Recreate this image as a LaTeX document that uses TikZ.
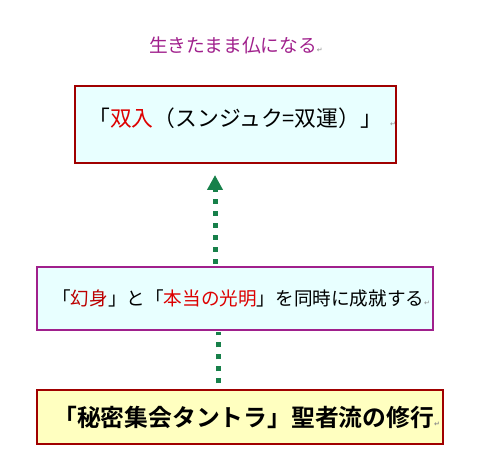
\documentclass[tikz,border=0pt]{standalone}
\usepackage{fontspec}
\newfontfamily\jp{Noto Sans CJK JP}[BoldFont={Noto Sans CJK JP Bold}]
\newfontfamily\sym{DejaVu Sans}
\usetikzlibrary{arrows.meta}
\definecolor{ttl}{HTML}{A0208C}
\definecolor{rd}{HTML}{DD0000}
\definecolor{bx}{HTML}{A00000}
\definecolor{cy}{HTML}{E8FFFF}
\definecolor{yl}{HTML}{FFFFC0}
\definecolor{gr}{HTML}{17804A}
\newcommand{\rmark}{{\sym\fontsize{7pt}{7pt}\selectfont\color{black!45}↵}}
\tikzset{
  box/.style={draw, line width=#1, inner sep=0pt},
  lbl/.style={inner sep=0pt, font=\jp, anchor=west},
  conn/.style={gr, line width=5pt, dash pattern=on 5pt off 7pt},
}
\begin{document}
\begin{tikzpicture}[x=1pt,y=1pt]
\useasboundingbox (0,0) rectangle (478,463);
% title
\node[lbl, text=ttl, font=\jp\fontsize{18.7pt}{19pt}\selectfont] (title) at (149,418) {生きたまま仏になる\rmark};
% box 1
\node[box=2pt, draw=bx, fill=cy, minimum width=321pt, minimum height=77pt] (b1) at (235.5,338.5) {};
\node[lbl, font=\jp\fontsize{21.8pt}{22pt}\selectfont] (t1) at (88,345) {「\textcolor{rd}{双入}（スンジュク=双運）」\hspace{8pt}\rmark};
% box 2
\node[box=2pt, draw=ttl, fill=cy, minimum width=396pt, minimum height=63pt] (b2) at (235,164.5) {};
\node[lbl, font=\jp\fontsize{18.6pt}{19pt}\selectfont] (t2) at (52,165) {「\textcolor{rd!85!black}{幻身}」と「\textcolor{rd}{本当の光明}」を同時に成就する\rmark};
% box 3
\node[box=1.2pt, draw=bx, fill=yl, minimum width=406pt, minimum height=54pt] (b3) at (240,46) {};
\node[lbl, font=\jp\bfseries\fontsize{23.8pt}{24pt}\selectfont] (t3) at (53,45.5) {「秘密集会タントラ」聖者流の修行\rmark};
% connectors
\draw[conn, -{Triangle[width=15pt,length=15pt,sep=0pt]}] (b2.north -| 215,0) ++(0,2) -- (215,288);
\draw[conn] (b3.north -| 218,0) ++(0,6) -- (218,131);
\end{tikzpicture}
\end{document}
